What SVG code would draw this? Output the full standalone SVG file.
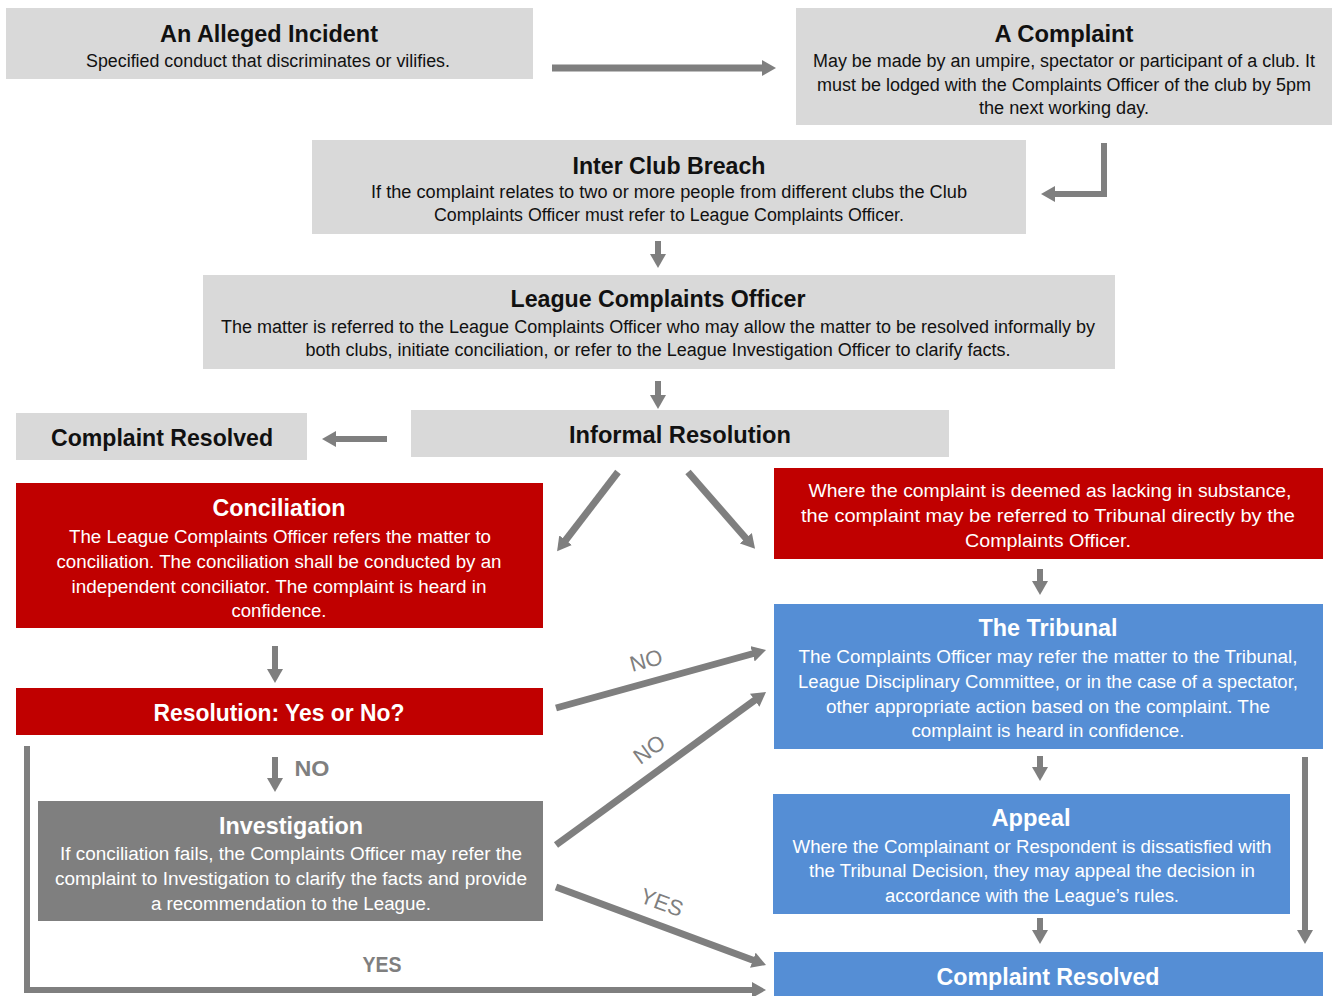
<svg xmlns="http://www.w3.org/2000/svg" width="1332" height="996" viewBox="0 0 1332 996">
<style>
text{font-family:"Liberation Sans",Arial,sans-serif;text-anchor:middle}
.t{font-size:24px;font-weight:bold}
.b{font-size:18px}
.dk{fill:#111}
.wh{fill:#fff}
.lbl{fill:#7f7f7f;font-size:22px}
.gray{fill:#d9d9d9}
.red{fill:#c00000}
.blue{fill:#558ed5}
.inv{fill:#7f7f7f}
.c{stroke:#7f7f7f;fill:none}
</style>
<defs>
<marker id="ah" markerUnits="userSpaceOnUse" viewBox="0 0 14 16" markerWidth="14" markerHeight="16" refX="1" refY="8" orient="auto"><path d="M0,0 L14,8 L0,16 z" fill="#7f7f7f"/></marker>
</defs>
<rect x="0" y="0" width="1332" height="996" fill="#fff"/>

<g id="alleged">
<rect class="gray" x="6" y="8" width="527" height="71"/>
<text class="t dk" x="269" y="42" textLength="218" lengthAdjust="spacingAndGlyphs">An Alleged Incident</text>
<text class="b dk" x="268" y="67" textLength="364" lengthAdjust="spacingAndGlyphs">Specified conduct that discriminates or vilifies.</text>
</g>

<g id="complaint">
<rect class="gray" x="796" y="8" width="536" height="117"/>
<text class="t dk" x="1064" y="42" textLength="139" lengthAdjust="spacingAndGlyphs">A Complaint</text>
<text class="b dk" x="1064" y="67" textLength="502" lengthAdjust="spacingAndGlyphs">May be made by an umpire, spectator or participant of a club. It</text>
<text class="b dk" x="1064" y="91" textLength="494" lengthAdjust="spacingAndGlyphs">must be lodged with the Complaints Officer of the club by 5pm</text>
<text class="b dk" x="1064" y="114" textLength="170" lengthAdjust="spacingAndGlyphs">the next working day.</text>
</g>

<g id="interclub">
<rect class="gray" x="312" y="140" width="714" height="94"/>
<text class="t dk" x="669" y="174" textLength="193" lengthAdjust="spacingAndGlyphs">Inter Club Breach</text>
<text class="b dk" x="669" y="198" textLength="596" lengthAdjust="spacingAndGlyphs">If the complaint relates to two or more people from different clubs the Club</text>
<text class="b dk" x="669" y="221" textLength="470" lengthAdjust="spacingAndGlyphs">Complaints Officer must refer to League Complaints Officer.</text>
</g>

<g id="league">
<rect class="gray" x="203" y="275" width="912" height="94"/>
<text class="t dk" x="658" y="307" textLength="295" lengthAdjust="spacingAndGlyphs">League Complaints Officer</text>
<text class="b dk" x="658" y="333" textLength="874" lengthAdjust="spacingAndGlyphs">The matter is referred to the League Complaints Officer who may allow the matter to be resolved informally by</text>
<text class="b dk" x="658" y="356" textLength="705" lengthAdjust="spacingAndGlyphs">both clubs, initiate conciliation, or refer to the League Investigation Officer to clarify facts.</text>
</g>

<g id="resolved-top">
<rect class="gray" x="16" y="413" width="291" height="47"/>
<text class="t dk" x="162" y="446" textLength="222" lengthAdjust="spacingAndGlyphs">Complaint Resolved</text>
</g>

<g id="informal">
<rect class="gray" x="411" y="410" width="538" height="47"/>
<text class="t dk" x="680" y="443" textLength="222" lengthAdjust="spacingAndGlyphs">Informal Resolution</text>
</g>

<g id="lacking">
<rect class="red" x="774" y="468" width="549" height="91"/>
<text class="b wh" x="1050" y="497" textLength="483" lengthAdjust="spacingAndGlyphs">Where the complaint is deemed as lacking in substance,</text>
<text class="b wh" x="1048" y="522" textLength="494" lengthAdjust="spacingAndGlyphs">the complaint may be referred to Tribunal directly by the</text>
<text class="b wh" x="1048" y="547" textLength="166" lengthAdjust="spacingAndGlyphs">Complaints Officer.</text>
</g>

<g id="conciliation">
<rect class="red" x="16" y="483" width="527" height="145"/>
<text class="t wh" x="279" y="516" textLength="133" lengthAdjust="spacingAndGlyphs">Conciliation</text>
<text class="b wh" x="280" y="543" textLength="422" lengthAdjust="spacingAndGlyphs">The League Complaints Officer refers the matter to</text>
<text class="b wh" x="279" y="568" textLength="445" lengthAdjust="spacingAndGlyphs">conciliation. The conciliation shall be conducted by an</text>
<text class="b wh" x="279" y="593" textLength="415" lengthAdjust="spacingAndGlyphs">independent conciliator. The complaint is heard in</text>
<text class="b wh" x="279" y="617" textLength="95" lengthAdjust="spacingAndGlyphs">confidence.</text>
</g>

<g id="resolution">
<rect class="red" x="16" y="688" width="527" height="47"/>
<text class="t wh" x="279" y="721" textLength="251" lengthAdjust="spacingAndGlyphs">Resolution: Yes or No?</text>
</g>

<g id="tribunal">
<rect class="blue" x="774" y="604" width="549" height="145"/>
<text class="t wh" x="1048" y="636" textLength="139" lengthAdjust="spacingAndGlyphs">The Tribunal</text>
<text class="b wh" x="1048" y="663" textLength="499" lengthAdjust="spacingAndGlyphs">The Complaints Officer may refer the matter to the Tribunal,</text>
<text class="b wh" x="1048" y="688" textLength="500" lengthAdjust="spacingAndGlyphs">League Disciplinary Committee, or in the case of a spectator,</text>
<text class="b wh" x="1048" y="713" textLength="444" lengthAdjust="spacingAndGlyphs">other appropriate action based on the complaint. The</text>
<text class="b wh" x="1048" y="737" textLength="273" lengthAdjust="spacingAndGlyphs">complaint is heard in confidence.</text>
</g>

<g id="investigation">
<rect class="inv" x="38" y="801" width="505" height="120"/>
<text class="t wh" x="291" y="834" textLength="144" lengthAdjust="spacingAndGlyphs">Investigation</text>
<text class="b wh" x="291" y="860" textLength="462" lengthAdjust="spacingAndGlyphs">If conciliation fails, the Complaints Officer may refer the</text>
<text class="b wh" x="291" y="885" textLength="472" lengthAdjust="spacingAndGlyphs">complaint to Investigation to clarify the facts and provide</text>
<text class="b wh" x="291" y="910" textLength="280" lengthAdjust="spacingAndGlyphs">a recommendation to the League.</text>
</g>

<g id="appeal">
<rect class="blue" x="773" y="794" width="517" height="120"/>
<text class="t wh" x="1031" y="826" textLength="79" lengthAdjust="spacingAndGlyphs">Appeal</text>
<text class="b wh" x="1032" y="853" textLength="479" lengthAdjust="spacingAndGlyphs">Where the Complainant or Respondent is dissatisfied with</text>
<text class="b wh" x="1032" y="877" textLength="446" lengthAdjust="spacingAndGlyphs">the Tribunal Decision, they may appeal the decision in</text>
<text class="b wh" x="1032" y="902" textLength="294" lengthAdjust="spacingAndGlyphs">accordance with the League’s rules.</text>
</g>

<g id="resolved-bottom">
<rect class="blue" x="774" y="952" width="549" height="44"/>
<text class="t wh" x="1048" y="985" textLength="223" lengthAdjust="spacingAndGlyphs">Complaint Resolved</text>
</g>

<g id="connectors" class="c" marker-end="url(#ah)">
<line x1="552" y1="68" x2="763" y2="68" stroke-width="7"/>
<polyline points="1104,143 1104,194 1054,194" stroke-width="6" stroke-linejoin="miter"/>
<line x1="658" y1="241" x2="658" y2="255" stroke-width="6"/>
<line x1="658" y1="381" x2="658" y2="396" stroke-width="6"/>
<line x1="387" y1="439" x2="335" y2="439" stroke-width="6"/>
<line x1="618" y1="472" x2="565" y2="541" stroke-width="7"/>
<line x1="688" y1="472" x2="746.5" y2="539" stroke-width="7"/>
<line x1="275" y1="646" x2="275" y2="670" stroke-width="6"/>
<line x1="1040" y1="569" x2="1040" y2="582" stroke-width="6"/>
<line x1="556" y1="708" x2="753.5" y2="653.5" stroke-width="7"/>
<line x1="556" y1="845" x2="755.5" y2="699.7" stroke-width="7"/>
<line x1="556" y1="887" x2="753.8" y2="960.5" stroke-width="7"/>
<line x1="275" y1="757" x2="275" y2="779" stroke-width="6"/>
<polyline points="27,746 27,990 753,990" stroke-width="6" stroke-linejoin="miter"/>
<line x1="1040" y1="756" x2="1040" y2="768" stroke-width="6"/>
<line x1="1305" y1="757" x2="1305" y2="931" stroke-width="6"/>
<line x1="1040" y1="918" x2="1040" y2="931" stroke-width="6"/>
</g>

<g id="labels">
<text class="lbl" x="646" y="668" transform="rotate(-15.4 646 660)">NO</text>
<text class="lbl" x="649" y="757" transform="rotate(-36 649 749)">NO</text>
<text class="lbl" x="662" y="910" transform="rotate(20.4 662 902)">YES</text>
<text class="lbl" x="312" y="776" font-weight="bold" textLength="35" lengthAdjust="spacingAndGlyphs">NO</text>
<text class="lbl" x="382" y="972" font-weight="bold" textLength="39" lengthAdjust="spacingAndGlyphs">YES</text>
</g>
</svg>
